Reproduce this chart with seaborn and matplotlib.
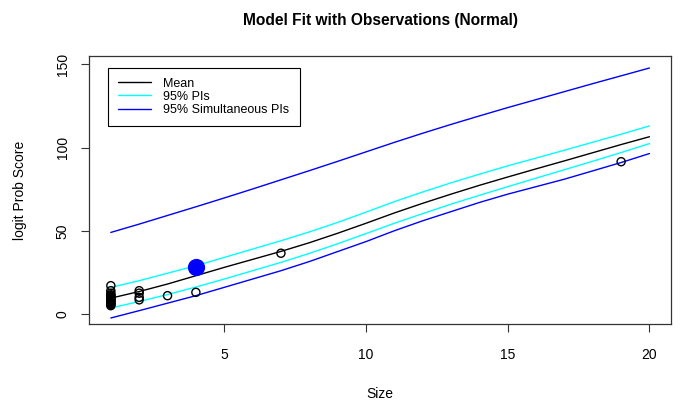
import numpy as np
import pandas as pd
import matplotlib
matplotlib.use('Agg')
import matplotlib.pyplot as plt
import seaborn as sns

# fitted curves on the size grid
size_grid = list(range(1, 21))
mean_fit = [9.5, 13.5, 18, 23, 28, 32.8, 37.6, 42.8, 48.5, 54.5, 60.7, 66.5, 72, 77.3, 82.3, 87.2, 92, 96.9, 101.8, 106.5]
pi_upper = [16, 20, 24.5, 29, 34, 39, 44, 49.3, 55, 61.2, 67.5, 73.3, 78.8, 84, 89, 93.7, 98.4, 103.2, 108, 113]
pi_lower = [3.6, 7.5, 11.7, 16.2, 21, 26, 31, 36.4, 42.2, 48.3, 54.5, 60.3, 66, 71.3, 76.5, 81.6, 86.7, 91.8, 97, 102.4]
sim_upper = [49, 54, 59.2, 64.4, 69.7, 75.1, 80.6, 86.1, 91.7, 97.4, 103.1, 108.6, 113.9, 119, 124, 128.8, 133.6, 138.4, 143.1, 147.8]
sim_lower = [-2.4, 2, 6.5, 11, 16, 21, 26, 31.5, 37.5, 43.5, 50, 56, 61.5, 67, 72, 76.5, 81, 86, 91, 96.4]

# observations
obs_size = [1] * 17 + [2, 2, 2, 2, 3, 4, 7, 19]
obs_score = [17, 14, 12.5, 11.5, 11, 10.5, 10, 9.5, 9, 8.5, 8, 7.5, 7, 6.5, 6, 5.5, 5,
             14, 12.5, 10, 8.5, 11, 13, 36.5, 91.5]

# highlighted observation
new_size = [4]
new_score = [28]

fits = pd.DataFrame({'Size': size_grid, 'mean': mean_fit, 'pu': pi_upper, 'pl': pi_lower,
                     'su': sim_upper, 'sl': sim_lower})
obs = pd.DataFrame({'Size': obs_size, 'score': obs_score})

sns.set_style('white', {'text.color': 'black', 'axes.labelcolor': 'black',
                        'xtick.color': 'black', 'ytick.color': 'black'})
plt.rcParams['font.family'] = ['Liberation Sans', 'DejaVu Sans']

fig = plt.figure(figsize=(6.9, 4.07), dpi=100)
ax = fig.add_axes([0.1294, 0.204, 0.9725 - 0.1294, 0.8624 - 0.204])

sns.lineplot(data=fits, x='Size', y='mean', color='black', lw=1, ax=ax, label='Mean')
sns.lineplot(data=fits, x='Size', y='pu', color='cyan', lw=1, ax=ax, label='95% PIs')
sns.lineplot(data=fits, x='Size', y='pl', color='cyan', lw=1, ax=ax)
sns.lineplot(data=fits, x='Size', y='su', color='blue', lw=1, ax=ax, label='95% Simultaneous PIs')
sns.lineplot(data=fits, x='Size', y='sl', color='blue', lw=1, ax=ax)

sns.scatterplot(data=obs, x='Size', y='score', ax=ax, s=34, facecolor='none',
                edgecolor='black', linewidth=1, zorder=3)
ax.scatter(new_size, new_score, s=130, color='blue', zorder=4)

ax.set_xlim(0.24, 20.76)
ax.set_ylim(-6, 155)
ax.set_xticks([5, 10, 15, 20])
ax.set_yticks([0, 50, 100, 150])
ax.tick_params(axis='both', direction='out', length=6, width=0.8, labelsize=10,
               bottom=True, left=True, color='#333333', labelcolor='black')
ax.tick_params(axis='x', pad=11)
ax.tick_params(axis='y', pad=8)
for lab in ax.get_yticklabels():
    lab.set_rotation(90)
    lab.set_va('center')
for sp in ax.spines.values():
    sp.set_color('#333333')
    sp.set_linewidth(0.9)

ax.set_xlabel('Size', fontsize=10, labelpad=18, color='black')
ax.set_ylabel('logit Prob Score', fontsize=10, labelpad=21, color='black')
ax.set_title('Model Fit with Observations (Normal)', fontsize=11.2, fontweight='bold',
             pad=22, color='black')

leg = ax.legend(loc='upper left', bbox_to_anchor=(0.033, 0.957), fontsize=9,
                frameon=True, fancybox=False, edgecolor='black', framealpha=1,
                handlelength=2.6, handletextpad=1.0, borderpad=0.8, labelspacing=0.1,
                borderaxespad=0)
leg.get_frame().set_linewidth(0.8)
for t in leg.get_texts():
    t.set_color('black')

fig.savefig('out.png', dpi=100)
